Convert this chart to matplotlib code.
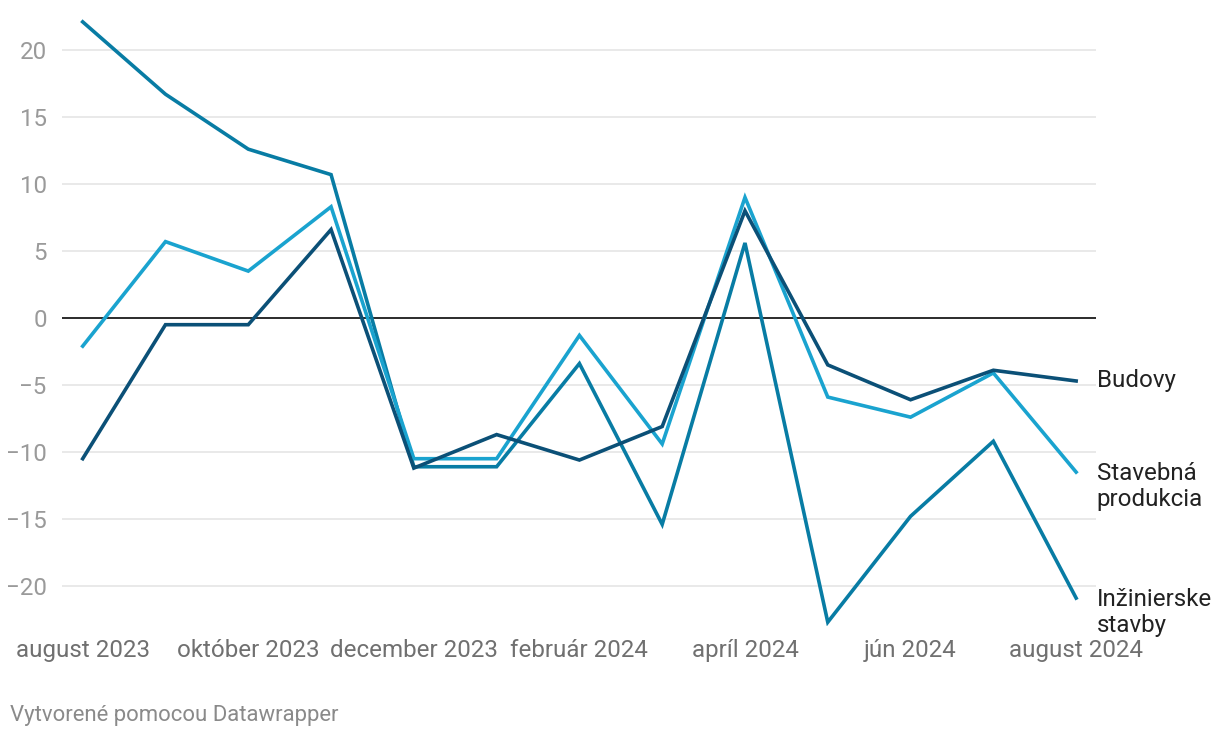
import matplotlib
matplotlib.use("Agg")
import matplotlib.pyplot as plt

plt.rcParams['font.family'] = ['Roboto', 'DejaVu Sans']

months = ["august 2023", "september 2023", "október 2023", "november 2023",
          "december 2023", "január 2024", "február 2024", "marec 2024",
          "apríl 2024", "máj 2024", "jún 2024", "júl 2024", "august 2024"]
inzinierske = [22.1, 16.7, 12.6, 10.7, -11.1, -11.1, -3.4, -15.4, 5.6, -22.7, -14.8, -9.2, -20.9]
stavebna = [-2.1, 5.7, 3.5, 8.3, -10.5, -10.5, -1.3, -9.4, 9.0, -5.9, -7.4, -4.1, -11.5]
budovy = [-10.5, -0.5, -0.5, 6.6, -11.2, -8.7, -10.6, -8.1, 8.0, -3.5, -6.1, -3.9, -4.7]
yticks = [-20, -15, -10, -5, 0, 5, 10, 15, 20]
xtick_idx = [0, 2, 4, 6, 8, 10, 12]

c_mid = "#087ca4"
c_light = "#1aa3cf"
c_dark = "#0b5077"

W, H = 1220, 738
fig = plt.figure(figsize=(W / 100, H / 100), dpi=100)
ymin, ymax = -23, 23
ppu = 13.4
top_px = 318 - ymax * ppu
bot_px = 318 - ymin * ppu
ax = fig.add_axes([62 / W, (H - bot_px) / H, (1096 - 62) / W, (bot_px - top_px) / H])
ax.set_xlim(-0.25, 12.24)
ax.set_ylim(ymin, ymax)

for s in ax.spines.values():
    s.set_visible(False)

for t in yticks:
    if t != 0:
        ax.axhline(t, color="#e3e3e3", lw=1.1, zorder=1)
ax.axhline(0, color="#1a1a1a", lw=1.3, zorder=2)

x = list(range(len(months)))
ax.plot(x, inzinierske, color=c_mid, lw=2.6, zorder=3, solid_joinstyle="miter")
ax.plot(x, stavebna, color=c_light, lw=2.6, zorder=4, solid_joinstyle="miter")
ax.plot(x, budovy, color=c_dark, lw=2.6, zorder=5, solid_joinstyle="miter")

ax.set_yticks(yticks)
ax.set_yticklabels([("\u2212" + str(abs(t))) if t < 0 else str(t) for t in yticks])
ax.tick_params(axis="y", length=0, pad=11, labelsize=17.4, labelcolor="#9a9a9a")
ax.set_xticks(xtick_idx)
ax.set_xticklabels([months[i] for i in xtick_idx])
ax.tick_params(axis="x", length=0, pad=9, labelsize=17.4, labelcolor="#707070")

lab_kw = dict(fontsize=17.4, color="#222222", va="center", ha="left",
              clip_on=False, linespacing=1.17)
ax.text(12.25, budovy[-1], "Budovy", **lab_kw)
ax.text(12.25, stavebna[-1] - 1.05, "Stavebná\nprodukcia", **lab_kw)
ax.text(12.25, inzinierske[-1] - 1.05, "Inžinierske\nstavby", **lab_kw)

fig.text(10 / W, 1 - 715 / H, "Vytvorené pomocou Datawrapper", fontsize=15.9,
         color="#8a8a8a", ha="left", va="center")

fig.savefig("out.png", dpi=100, facecolor="white")
